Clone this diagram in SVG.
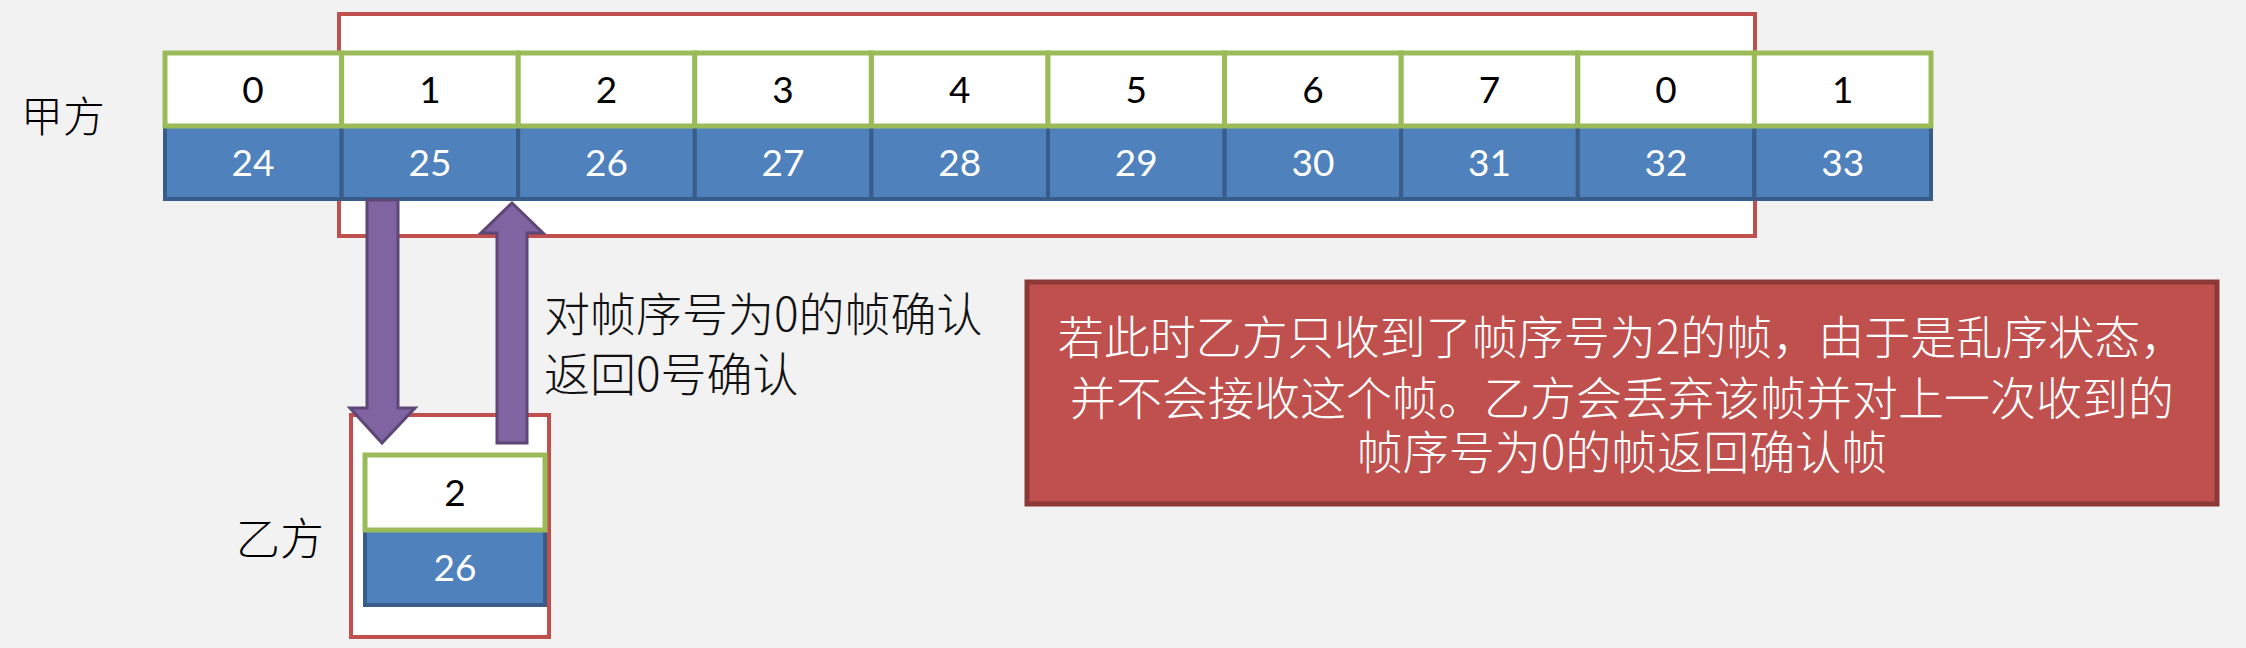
<svg xmlns="http://www.w3.org/2000/svg" width="2246" height="648" viewBox="0 0 2246 648">
<style>
.bg{fill:#F2F2F2}
.win{fill:#FFFFFF;stroke:#C0504D;stroke-width:4}
.seq{fill:#FFFFFF;stroke:#9BBB59;stroke-width:5}
.num{fill:#4F81BD;stroke:#385D8A;stroke-width:4}
.d{font-family:Lato,"Open Sans","Liberation Sans",sans-serif;font-size:37px;text-anchor:middle}
.dk{fill:#000000}
.wt{fill:#FFFFFF}
.cj{font-family:"Noto Sans CJK SC","Noto Sans",sans-serif;font-weight:300}
.arrow{fill:#8064A2;stroke:#5C4776;stroke-width:3;stroke-linejoin:miter}
.note{fill:#C0504D;stroke:#8C3836;stroke-width:5}
</style>
<rect class="bg" x="0" y="0" width="2246" height="648"/>
<g id="sender-window">
<rect class="win" x="339" y="14" width="1416" height="222"/>
</g>
<g id="sender-label"><text class="cj" x="21" y="132" font-size="42" fill="#000">甲方</text></g>
<g id="sender-frames">
<g id="f0"><rect class="num" x="165" y="126" width="176.6" height="73"/><rect class="seq" x="165" y="53" width="176.6" height="73"/><text class="d dk" x="253" y="103">0</text><text class="d wt" x="253" y="176">24</text></g>
<g id="f1"><rect class="num" x="341.6" y="126" width="176.6" height="73"/><rect class="seq" x="341.6" y="53" width="176.6" height="73"/><text class="d dk" x="430" y="103">1</text><text class="d wt" x="430" y="176">25</text></g>
<g id="f2"><rect class="num" x="518.2" y="126" width="176.6" height="73"/><rect class="seq" x="518.2" y="53" width="176.6" height="73"/><text class="d dk" x="606.5" y="103">2</text><text class="d wt" x="606.5" y="176">26</text></g>
<g id="f3"><rect class="num" x="694.8" y="126" width="176.6" height="73"/><rect class="seq" x="694.8" y="53" width="176.6" height="73"/><text class="d dk" x="783" y="103">3</text><text class="d wt" x="783" y="176">27</text></g>
<g id="f4"><rect class="num" x="871.4" y="126" width="176.6" height="73"/><rect class="seq" x="871.4" y="53" width="176.6" height="73"/><text class="d dk" x="959.7" y="103">4</text><text class="d wt" x="959.7" y="176">28</text></g>
<g id="f5"><rect class="num" x="1048" y="126" width="176.6" height="73"/><rect class="seq" x="1048" y="53" width="176.6" height="73"/><text class="d dk" x="1136.3" y="103">5</text><text class="d wt" x="1136.3" y="176">29</text></g>
<g id="f6"><rect class="num" x="1224.6" y="126" width="176.6" height="73"/><rect class="seq" x="1224.6" y="53" width="176.6" height="73"/><text class="d dk" x="1313" y="103">6</text><text class="d wt" x="1313" y="176">30</text></g>
<g id="f7"><rect class="num" x="1401.2" y="126" width="176.6" height="73"/><rect class="seq" x="1401.2" y="53" width="176.6" height="73"/><text class="d dk" x="1489.5" y="103">7</text><text class="d wt" x="1489.5" y="176">31</text></g>
<g id="f8"><rect class="num" x="1577.8" y="126" width="176.6" height="73"/><rect class="seq" x="1577.8" y="53" width="176.6" height="73"/><text class="d dk" x="1666" y="103">0</text><text class="d wt" x="1666" y="176">32</text></g>
<g id="f9"><rect class="num" x="1754.4" y="126" width="176.6" height="73"/><rect class="seq" x="1754.4" y="53" width="176.6" height="73"/><text class="d dk" x="1842.7" y="103">1</text><text class="d wt" x="1842.7" y="176">33</text></g>
</g>
<g id="receiver">
<rect class="win" x="351" y="415" width="198" height="222"/>
<rect class="num" x="365" y="530" width="180" height="75"/>
<rect class="seq" x="365" y="455" width="180" height="75"/>
<text class="d dk" x="455" y="506">2</text>
<text class="d wt" x="455" y="581">26</text>
</g>
<g id="receiver-label"><text class="cj" x="236" y="555" font-size="44" fill="#000">乙方</text></g>
<g id="connectors">
<polygon class="arrow" points="367,200 398,200 398,408 415,408 382,443 350,408 367,408"/>
<polygon class="arrow" points="512,203 543,233 527,233 527,443 497,443 497,233 481,233"/>
</g>
<g id="ack-label">
<text class="cj" x="544" y="331" font-size="46" fill="#111">对帧序号为0的帧确认</text>
<text class="cj" x="544" y="391" font-size="46" fill="#111">返回0号确认</text>
</g>
<g id="note">
<rect class="note" x="1027" y="282" width="1190" height="222"/>
<text class="cj" x="1622" y="354" font-size="46" fill="#FFF" text-anchor="middle">若此时乙方只收到了帧序号为2的帧，由于是乱序状态，</text>
<text class="cj" x="1622" y="415" font-size="46" fill="#FFF" text-anchor="middle">并不会接收这个帧。乙方会丢弃该帧并对上一次收到的</text>
<text class="cj" x="1622" y="469" font-size="46" fill="#FFF" text-anchor="middle">帧序号为0的帧返回确认帧</text>
</g>
</svg>
